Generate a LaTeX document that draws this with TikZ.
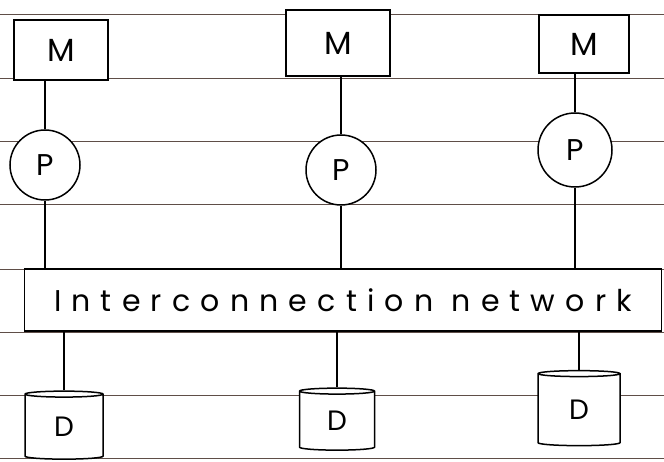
\documentclass[tikz,border=0pt]{standalone}
\usepackage{fontspec}
\newfontfamily\hand{Poppins}
\newfontfamily\handwide[LetterSpace=34]{Poppins}
\usetikzlibrary{shapes.geometric}
\definecolor{ruleink}{RGB}{95,78,72}
\begin{document}
\begin{tikzpicture}[x=1pt,y=-1pt,
    rule/.style={ruleink,line width=1pt},
    mem/.style={draw,fill=white,line width=1.6pt,minimum width=94pt,minimum height=60pt,
      font=\hand\fontsize{32}{32}\selectfont},
    proc/.style={draw,fill=white,circle,line width=1.5pt,minimum size=70pt,inner sep=0pt,
      font=\hand\fontsize{30}{30}\selectfont},
    disk/.style={draw,fill=white,cylinder,shape border rotate=90,aspect=0.3,line width=1.5pt,
      minimum width=78pt,minimum height=68pt,inner sep=0pt,
      font=\hand\fontsize{28}{28}\selectfont},
    net/.style={draw,fill=white,line width=1.8pt,minimum width=637pt,minimum height=62pt,
      font=\handwide\fontsize{30}{30}\selectfont}]
  \useasboundingbox (0,0) rectangle (664,462);
  % ruled paper
  \foreach \y in {15,79,142,205,270,333,395,458}
    \draw[rule] (0,\y) -- (664,\y);
  \draw
    (61,50) node[mem] (m1){M}
    (338,43) node[mem,minimum width=104pt,minimum height=66pt] (m2){M}
    (584,44) node[mem,minimum width=90pt,minimum height=58pt] (m3){M}
    (45,165) node[proc] (p1){P}
    (341,170) node[proc] (p2){P}
    (575,150) node[proc,minimum size=74pt] (p3){P}
    (343,300) node[net] (nw){Interconnection network}
    (64,427) node[disk] (d1){D}
    (337,421) node[disk,minimum width=75pt,minimum height=62pt] (d2){D}
    (579,410) node[disk,minimum width=82pt,minimum height=75pt] (d3){D};
  \begin{scope}[line width=1.3pt]
    \draw (p1.north) to (p1.north |- m1.south);
    \draw (p2.north) to (p2.north |- m2.south);
    \draw (p3.north) to (p3.north |- m3.south);
    \draw (p1.south) to (p1.south |- nw.north);
    \draw (p2.south) to (p2.south |- nw.north);
    \draw (p3.south) to (p3.south |- nw.north);
    \draw (d1.north) to (d1.north |- nw.south);
    \draw (d2.north) to (d2.north |- nw.south);
    \draw (d3.north) to (d3.north |- nw.south);
  \end{scope}
\end{tikzpicture}
\end{document}
